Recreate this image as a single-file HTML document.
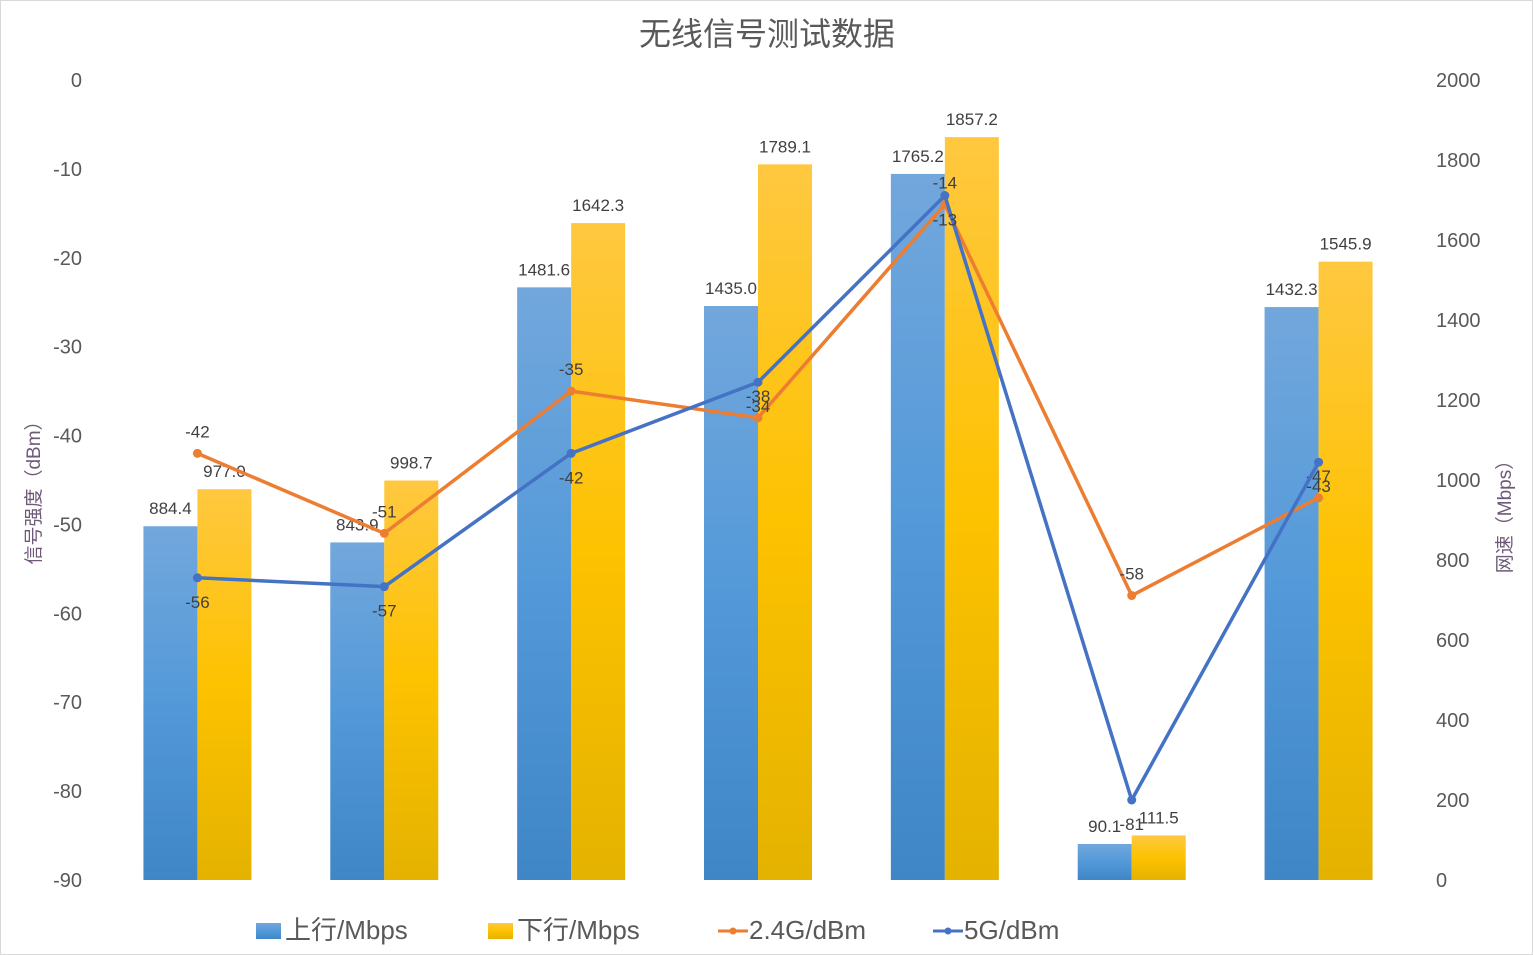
<!DOCTYPE html>
<html><head><meta charset="utf-8">
<style>
html,body{margin:0;padding:0;background:#fff;}
svg{display:block;font-family:"Liberation Sans","Noto Sans CJK SC",sans-serif;}
</style></head>
<body>
<svg id="chart" width="1533" height="955" viewBox="0 0 1533 955">
<defs>
<linearGradient id="gBlue" x1="0" y1="0" x2="0" y2="1"><stop offset="0" stop-color="#72a7dc"/><stop offset="0.5" stop-color="#5399d9"/><stop offset="1" stop-color="#3f86c7"/></linearGradient>
<linearGradient id="gYel" x1="0" y1="0" x2="0" y2="1"><stop offset="0" stop-color="#ffc840"/><stop offset="0.5" stop-color="#fdc200"/><stop offset="1" stop-color="#e4b200"/></linearGradient>
</defs>
<rect x="0.5" y="0.5" width="1532" height="954" fill="#fff" stroke="#d9d9d9"/>
<text x="767" y="45" text-anchor="middle" font-size="32" fill="#595959">无线信号测试数据</text>
<text transform="translate(40,488) rotate(-90)" text-anchor="middle" font-size="19" fill="#6e5a78">信号强度（dBm）</text>
<text transform="translate(1511,512) rotate(-90)" text-anchor="middle" font-size="19" fill="#6e5a78">网速（Mbps）</text>
<g id="plot"></g>
<g>
  <g><rect x="256" y="923" width="25" height="16" fill="url(#gBlue)"/><text x="285" y="939" font-size="26" fill="#595959">上行/Mbps</text></g>
  <g><rect x="488" y="923" width="25" height="16" fill="url(#gYel)"/><text x="517" y="939" font-size="26" fill="#595959">下行/Mbps</text></g>
  <g><line x1="718" y1="931" x2="748" y2="931" stroke="#ed7d31" stroke-width="3"/><circle cx="733" cy="931" r="3.5" fill="#ed7d31"/><text x="749" y="939" font-size="26" fill="#595959">2.4G/dBm</text></g>
  <g><line x1="933" y1="931" x2="963" y2="931" stroke="#4472c4" stroke-width="3"/><circle cx="948" cy="931" r="3.5" fill="#4472c4"/><text x="964" y="939" font-size="26" fill="#595959">5G/dBm</text></g>
</g>
</svg>
<script>
const categories = ["1","2","3","4","5","6","7"];
const upValues = [884.4, 843.9, 1481.6, 1435.0, 1765.2, 90.1, 1432.3];
const downValues = [977.0, 998.7, 1642.3, 1789.1, 1857.2, 111.5, 1545.9];
const g24Values = [-42, -51, -35, -38, -14, -58, -47];
const g5Values = [-56, -57, -42, -34, -13, -81, -43];
const leftTicks = [0, -10, -20, -30, -40, -50, -60, -70, -80, -90];
const rightTicks = [2000, 1800, 1600, 1400, 1200, 1000, 800, 600, 400, 200, 0];

const NS = "http://www.w3.org/2000/svg";
const plot = document.getElementById("plot");
const top_ = 80, bot = 880, x0 = 104, x1 = 1412;
const yL = v => top_ + (0 - v) / 90 * (bot - top_);
const yR = v => bot - v / 2000 * (bot - top_);
const step = (x1 - x0) / categories.length;
const xC = i => x0 + step * (i + 0.5);
const barW = 54;
function mk(tag, attrs) { const e = document.createElementNS(NS, tag); for (const k in attrs) e.setAttribute(k, attrs[k]); plot.appendChild(e); return e; }

leftTicks.forEach(t => {
  const e = mk("text", {x: 82, y: yL(t) + 7, "text-anchor": "end", "font-size": 20, fill: "#595959"});
  e.textContent = t;
  
  
});
rightTicks.forEach(t => {
  const e = mk("text", {x: 1436, y: yR(t) + 7, "text-anchor": "start", "font-size": 20, fill: "#595959"});
  e.textContent = t;
  
  
});

categories.forEach((c, i) => {
  const cx = xC(i);
  const yu = yR(upValues[i]);
  const b1 = mk("rect", {x: cx - barW, y: yu, width: barW, height: bot - yu, fill: "url(#gBlue)"});
  
  
  const yd = yR(downValues[i]);
  const b2 = mk("rect", {x: cx, y: yd, width: barW, height: bot - yd, fill: "url(#gYel)"});
  
  
  const l1 = mk("text", {x: cx - barW / 2, y: yu - 12, "text-anchor": "middle", "font-size": 17, fill: "#404040"});
  l1.textContent = upValues[i].toFixed(1);
  
  
  const l2 = mk("text", {x: cx + barW / 2, y: yd - 12, "text-anchor": "middle", "font-size": 17, fill: "#404040"});
  l2.textContent = downValues[i].toFixed(1);
  
  
});

function series(vals, color, name, above) {
  const pts = vals.map((v, i) => xC(i) + "," + yL(v)).join(" ");
  const pl = mk("polyline", {points: pts, fill: "none", stroke: color, "stroke-width": 3.5, "stroke-linejoin": "round"});
  
  
  vals.forEach((v, i) => {
    const c = mk("circle", {cx: xC(i), cy: yL(v), r: 4.5, fill: color});
    
    
    const t = mk("text", {x: xC(i), y: yL(v) + (above ? -16 : 30), "text-anchor": "middle", "font-size": 17, fill: "#404040"});
    t.textContent = v;
    
    
  });
}
series(g24Values, "#ed7d31", "series-2g", true);
series(g5Values, "#4472c4", "series-5g", false);
</script>
</body></html>
